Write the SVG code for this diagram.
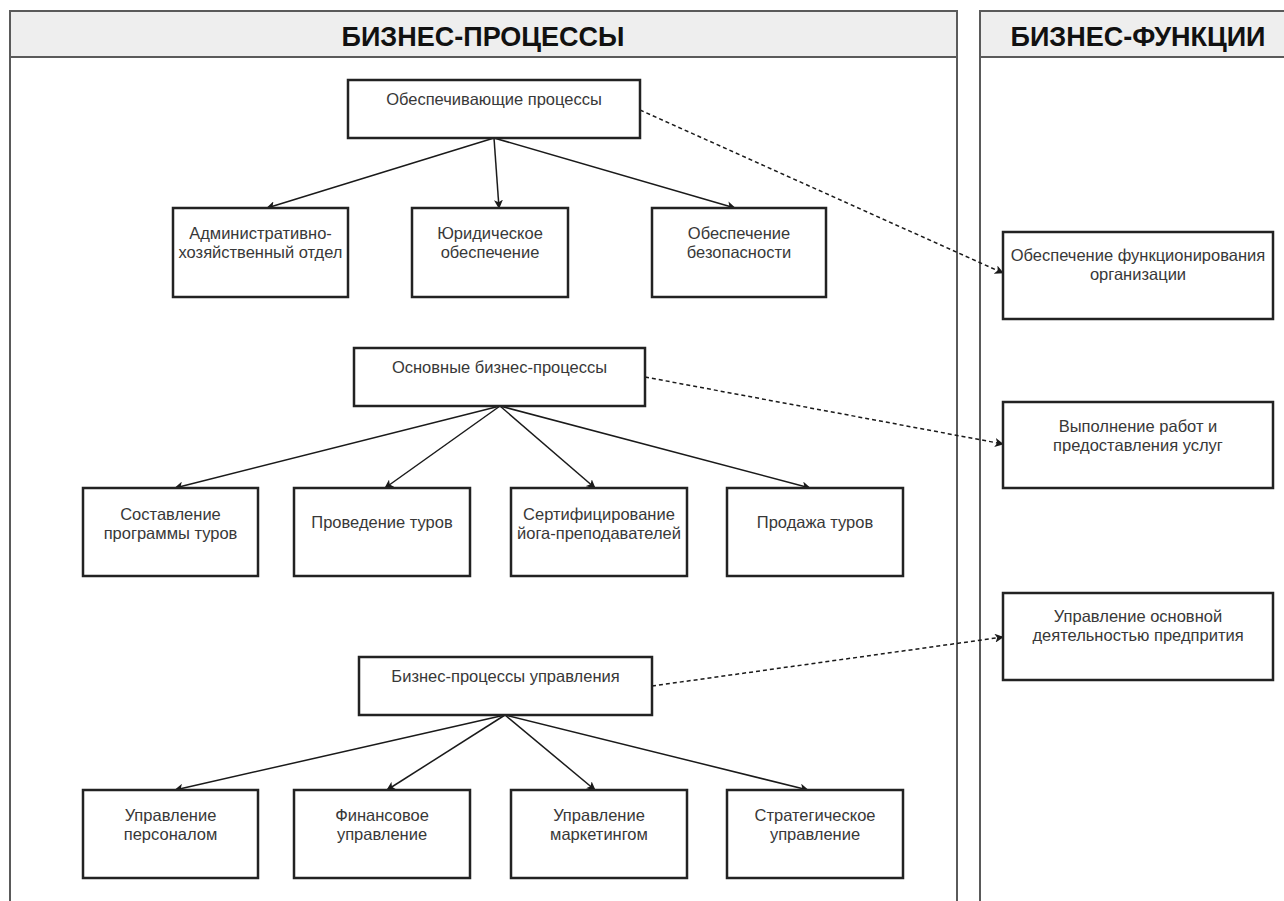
<svg xmlns="http://www.w3.org/2000/svg" width="1284" height="901" viewBox="0 0 1284 901">
  <style>
    .pool { fill: #ffffff; stroke: #5a5a5a; stroke-width: 2; }
    .pool-head { fill: #eeeeee; stroke: #5a5a5a; stroke-width: 2; }
    .title { font-family: "Liberation Sans", Arial, sans-serif; font-size: 27px; font-weight: bold; fill: #111111; text-anchor: middle; }
    .box { fill: #ffffff; stroke: #222222; stroke-width: 2.5; }
    .label { font-family: "Liberation Sans", Arial, sans-serif; font-size: 16.5px; fill: #383838; text-anchor: middle; }
    .edge { fill: none; stroke: #1a1a1a; stroke-width: 1.5; }
    .dash { fill: none; stroke: #1a1a1a; stroke-width: 1.5; stroke-dasharray: 4 3; }
  </style>
  <defs>
    <marker id="arrow" viewBox="0 0 10 10" refX="9" refY="5" markerWidth="9" markerHeight="9" markerUnits="userSpaceOnUse" orient="auto">
      <path d="M0,0 L10,5 L0,10 L2.5,5 Z" fill="#1a1a1a"/>
    </marker>
  </defs>

  <rect width="1284" height="901" fill="#ffffff"/>

  <!-- swimlanes -->
  <g id="lane-processes">
    <rect class="pool" x="10" y="11" width="947" height="910"/>
    <rect class="pool-head" x="10" y="11" width="947" height="46"/>
    <text class="title" x="483" y="46">БИЗНЕС-ПРОЦЕССЫ</text>
  </g>
  <g id="lane-functions">
    <rect class="pool" x="980" y="11" width="320" height="910"/>
    <rect class="pool-head" x="980" y="11" width="320" height="46"/>
    <text class="title" x="1138" y="46">БИЗНЕС-ФУНКЦИИ</text>
  </g>

  <!-- connectors -->
  <g id="connectors">
    <line class="edge" x1="494" y1="138" x2="267" y2="208" marker-end="url(#arrow)"/>
    <line class="edge" x1="494" y1="138" x2="499" y2="208" marker-end="url(#arrow)"/>
    <line class="edge" x1="494" y1="138" x2="735" y2="208" marker-end="url(#arrow)"/>

    <line class="edge" x1="500" y1="406" x2="175" y2="488" marker-end="url(#arrow)"/>
    <line class="edge" x1="500" y1="406" x2="385" y2="488" marker-end="url(#arrow)"/>
    <line class="edge" x1="500" y1="406" x2="595" y2="488" marker-end="url(#arrow)"/>
    <line class="edge" x1="500" y1="406" x2="810" y2="488" marker-end="url(#arrow)"/>

    <line class="edge" x1="505" y1="715" x2="175" y2="790" marker-end="url(#arrow)"/>
    <line class="edge" x1="505" y1="715" x2="387" y2="790" marker-end="url(#arrow)"/>
    <line class="edge" x1="505" y1="715" x2="595" y2="790" marker-end="url(#arrow)"/>
    <line class="edge" x1="505" y1="715" x2="808" y2="790" marker-end="url(#arrow)"/>

    <line class="dash" x1="640" y1="110" x2="1003" y2="273" marker-end="url(#arrow)"/>
    <line class="dash" x1="645" y1="377" x2="1003" y2="444" marker-end="url(#arrow)"/>
    <line class="dash" x1="652" y1="686" x2="1003" y2="637" marker-end="url(#arrow)"/>
  </g>

  <!-- supporting processes -->
  <g id="support">
    <rect class="box" x="348" y="80" width="292" height="58"/>
    <text class="label" x="494" y="105">Обеспечивающие процессы</text>
  </g>
  <g id="admin">
    <rect class="box" x="173" y="208" width="175" height="89"/>
    <text class="label" x="260.5" y="239">Административно-</text>
    <text class="label" x="260.5" y="258">хозяйственный отдел</text>
  </g>
  <g id="legal">
    <rect class="box" x="412" y="208" width="156" height="89"/>
    <text class="label" x="490" y="239">Юридическое</text>
    <text class="label" x="490" y="258">обеспечение</text>
  </g>
  <g id="security">
    <rect class="box" x="652" y="208" width="174" height="89"/>
    <text class="label" x="739" y="239">Обеспечение</text>
    <text class="label" x="739" y="258">безопасности</text>
  </g>

  <!-- core processes -->
  <g id="core">
    <rect class="box" x="354" y="348" width="291" height="58"/>
    <text class="label" x="499.5" y="373">Основные бизнес-процессы</text>
  </g>
  <g id="tour-program">
    <rect class="box" x="83" y="488" width="175" height="88"/>
    <text class="label" x="170.5" y="520">Составление</text>
    <text class="label" x="170.5" y="539">программы туров</text>
  </g>
  <g id="tour-run">
    <rect class="box" x="294" y="488" width="176" height="88"/>
    <text class="label" x="382" y="528">Проведение туров</text>
  </g>
  <g id="yoga-cert">
    <rect class="box" x="511" y="488" width="176" height="88"/>
    <text class="label" x="599" y="520">Сертифицирование</text>
    <text class="label" x="599" y="539">йога-преподавателей</text>
  </g>
  <g id="tour-sales">
    <rect class="box" x="727" y="488" width="176" height="88"/>
    <text class="label" x="815" y="528">Продажа туров</text>
  </g>

  <!-- management processes -->
  <g id="management">
    <rect class="box" x="359" y="657" width="293" height="58"/>
    <text class="label" x="505.5" y="682">Бизнес-процессы управления</text>
  </g>
  <g id="hr">
    <rect class="box" x="83" y="790" width="175" height="88"/>
    <text class="label" x="170.5" y="821">Управление</text>
    <text class="label" x="170.5" y="840">персоналом</text>
  </g>
  <g id="finance">
    <rect class="box" x="294" y="790" width="176" height="88"/>
    <text class="label" x="382" y="821">Финансовое</text>
    <text class="label" x="382" y="840">управление</text>
  </g>
  <g id="marketing">
    <rect class="box" x="511" y="790" width="176" height="88"/>
    <text class="label" x="599" y="821">Управление</text>
    <text class="label" x="599" y="840">маркетингом</text>
  </g>
  <g id="strategy">
    <rect class="box" x="727" y="790" width="176" height="88"/>
    <text class="label" x="815" y="821">Стратегическое</text>
    <text class="label" x="815" y="840">управление</text>
  </g>

  <!-- business functions -->
  <g id="fn-operation">
    <rect class="box" x="1003" y="232" width="270" height="87"/>
    <text class="label" x="1138" y="261">Обеспечение функционирования</text>
    <text class="label" x="1138" y="280">организации</text>
  </g>
  <g id="fn-services">
    <rect class="box" x="1003" y="402" width="270" height="86"/>
    <text class="label" x="1138" y="432">Выполнение работ и</text>
    <text class="label" x="1138" y="451">предоставления услуг</text>
  </g>
  <g id="fn-governance">
    <rect class="box" x="1003" y="593" width="270" height="87"/>
    <text class="label" x="1138" y="622">Управление основной</text>
    <text class="label" x="1138" y="641">деятельностью предпрития</text>
  </g>
</svg>
